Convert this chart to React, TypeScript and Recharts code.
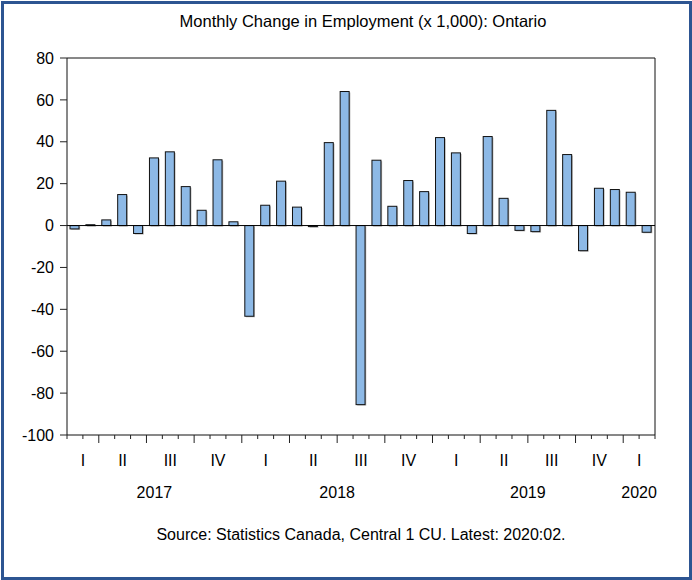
import React from "react";
import { BarChart, Bar, XAxis, YAxis, ReferenceLine, CartesianGrid } from "recharts";

const months = [
  "2017-02", "2017-03", "2017-04", "2017-05", "2017-06", "2017-07", "2017-08", "2017-09", "2017-10", "2017-11", "2017-12",
  "2018-01", "2018-02", "2018-03", "2018-04", "2018-05", "2018-06", "2018-07", "2018-08", "2018-09", "2018-10", "2018-11", "2018-12",
  "2019-01", "2019-02", "2019-03", "2019-04", "2019-05", "2019-06", "2019-07", "2019-08", "2019-09", "2019-10", "2019-11", "2019-12",
  "2020-01", "2020-02",
];

const changes = [
  -1.6, 0.4, 2.7, 14.8, -3.8, 32.3, 35.2, 18.6, 7.3, 31.4, 1.8,
  -43.3, 9.7, 21.2, 8.8, -0.5, 39.6, 64.0, -85.5, 31.2, 9.2, 21.5, 16.2,
  42.0, 34.7, -3.8, 42.5, 13.0, -2.3, -2.9, 55.0, 33.9, -12.0, 17.8, 17.2,
  15.9, -3.2,
];

const yTicks = [-100, -80, -60, -40, -20, 0, 20, 40, 60, 80];
const quarterNames = ["I", "II", "III", "IV"];

const titleText = "Monthly Change in Employment (x 1,000): Ontario";
const sourceText = "Source: Statistics Canada, Central 1 CU. Latest: 2020:02.";

const data = months.map((m, i) => ({ month: m, value: changes[i] }));

type Group = { key: string; label: string; start: number; end: number };
function groupMonths(keyFn: (m: string) => string, labelFn: (m: string) => string): Group[] {
  const out: Group[] = [];
  months.forEach((m, i) => {
    const k = keyFn(m);
    const last = out[out.length - 1];
    if (last && last.key === k) last.end = i + 1;
    else out.push({ key: k, label: labelFn(m), start: i, end: i + 1 });
  });
  return out;
}
const monthNum = (m: string) => parseInt(m.slice(5, 7), 10);
const quarterGroups = groupMonths(
  (m) => m.slice(0, 4) + "Q" + Math.floor((monthNum(m) - 1) / 3),
  (m) => quarterNames[Math.floor((monthNum(m) - 1) / 3)]
);
const yearGroups = groupMonths((m) => m.slice(0, 4), (m) => m.slice(0, 4));
const quarterByStart = new Map(quarterGroups.map((g) => [g.start, g]));
const yearByStart = new Map(yearGroups.map((g) => [g.start, g]));

const FONT = "Arial, 'Liberation Sans', sans-serif";

const MonthTick = (props: any) => {
  const { x, y, payload, index, width } = props;
  const i = typeof index === "number" ? index : months.indexOf(payload.value);
  const half = (payload && payload.offset) || width / months.length / 2;
  const left = x - half;
  const m = months[i];
  const major = i > 0 && (monthNum(m) - 1) % 3 === 0;
  const q = quarterByStart.get(i);
  const yr = yearByStart.get(i);
  return (
    <g>
      <line x1={left} x2={left} y1={y} y2={y + (major ? 8 : 4)} stroke="#222" strokeWidth={1} />
      {i === months.length - 1 && (
        <line x1={x + half} x2={x + half} y1={y} y2={y + 4} stroke="#222" strokeWidth={1} />
      )}
      {q && (
        <text x={left + (q.end - q.start) * half} y={y + 30.5} textAnchor="middle" fontSize={16} fontFamily={FONT} fill="#000">
          {q.label}
        </text>
      )}
      {yr && (
        <text x={left + (yr.end - yr.start) * half} y={y + 63} textAnchor="middle" fontSize={16} fontFamily={FONT} fill="#000">
          {yr.label}
        </text>
      )}
    </g>
  );
};

const BarShape = (props: any) => {
  const { x, y, width, height } = props;
  if (width == null || height == null) return null;
  const top = Math.min(y, y + height);
  const h = Math.abs(height);
  return (
    <g>
      <rect x={x + 1.2} y={top + 1} width={width} height={h} fill="#777" opacity={0.55} />
      <rect x={x} y={top} width={width} height={h} fill="#8DB9E6" stroke="#111" strokeWidth={1} />
    </g>
  );
};

export default function App() {
  return (
    <div style={{ position: "absolute", left: 0, top: 0, width: 692, height: 580, background: "#fff", fontFamily: FONT }}>
      <div
        style={{
          position: "absolute",
          left: 0,
          top: 11,
          width: 726,
          textAlign: "center",
          fontSize: 16.5,
          color: "#000",
          lineHeight: "20px",
        }}
      >
        {titleText}
      </div>
      <div style={{ position: "absolute", left: 0, top: 0 }}>
        <BarChart
          width={692}
          height={580}
          data={data}
          margin={{ top: 58, right: 37, bottom: 80, left: 7 }}
          barCategoryGap={0}
        >
          <CartesianGrid
            xAxisId="cat"
            yAxisId="left"
            stroke="#111"
            strokeWidth={1}
            fill="none"
            horizontalCoordinatesGenerator={({ offset }: any) => [offset.top]}
            verticalCoordinatesGenerator={({ offset }: any) => [offset.left + offset.width]}
          />
          <XAxis
            xAxisId="cat"
            dataKey="month"
            type="category"
            interval={0}
            height={65}
            tickSize={0}
            tickMargin={0}
            tickLine={false}
            axisLine={{ stroke: "#111" }}
            tick={<MonthTick />}
          />
          <YAxis
            yAxisId="left"
            type="number"
            domain={[-100, 80]}
            ticks={yTicks}
            interval={0}
            width={60}
            tickSize={7}
            tickMargin={6}
            axisLine={{ stroke: "#111" }}
            tickLine={{ stroke: "#222" }}
            tick={{ fontSize: 16, fill: "#000", fontFamily: FONT }}
          />
          <ReferenceLine xAxisId="cat" yAxisId="left" y={0} stroke="#000" strokeWidth={1} />
          <Bar xAxisId="cat" yAxisId="left" dataKey="value" barSize={9} isAnimationActive={false} shape={<BarShape />} />
        </BarChart>
      </div>
      <div
        style={{
          position: "absolute",
          left: 0,
          top: 525,
          width: 722,
          textAlign: "center",
          fontSize: 16,
          color: "#000",
          lineHeight: "20px",
        }}
      >
        {sourceText}
      </div>
      <div
        style={{
          position: "absolute",
          left: 1,
          top: 1,
          width: 691,
          height: 579,
          boxSizing: "border-box",
          border: "3px solid #2D5592",
          pointerEvents: "none",
        }}
      />
    </div>
  );
}
